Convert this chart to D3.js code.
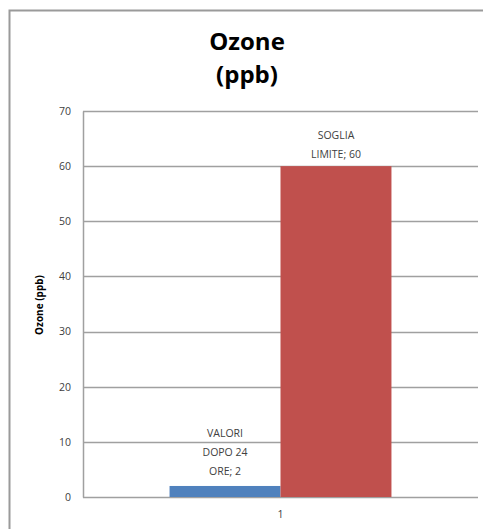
<!DOCTYPE html>
<html>
<head>
<meta charset="utf-8">
<script src="https://cdn.jsdelivr.net/npm/d3@7"></script>
<style>
  body { margin: 0; background: #fff; }
  svg { display: block; font-family: "Open Sans", "Noto Sans", sans-serif; }
</style>
</head>
<body>
<div class="chart"></div>
<script>
// data
var categories = ["1"];
var seriesNames = ["VALORI DOPO 24 ORE", "SOGLIA LIMITE"];
var seriesValues = [2, 60];
var seriesColors = ["#4f81bd", "#c0504d"];
var yTicks = [0, 10, 20, 30, 40, 50, 60, 70];
var labelLines = [["VALORI", "DOPO 24", "ORE; 2"], ["SOGLIA", "LIMITE; 60"]];

var W = 483, H = 529;
var margin = {top: 111, right: 5, bottom: 32, left: 83};
var width = W - margin.left - margin.right;
var height = H - margin.top - margin.bottom;

var svg = d3.select(".chart").append("svg")
  .attr("width", W)
  .attr("height", H);

// outer chart frame (cropped on right and bottom)
svg.append("path")
  .attr("d", "M9.5," + H + " V10.5 H" + W)
  .attr("fill", "none")
  .attr("stroke", "#9a9a9a")
  .attr("stroke-width", 2);

// title
var title = svg.append("text")
  .attr("x", 247)
  .attr("text-anchor", "middle")
  .attr("font-weight", "bold")
  .attr("font-size", 24)
  .attr("fill", "#000");
title.append("tspan").attr("x", 247).attr("y", 50).text("Ozone");
title.append("tspan").attr("x", 247).attr("y", 83).text("(ppb)");

var g = svg.append("g")
  .attr("transform", "translate(" + margin.left + "," + margin.top + ")");

var y = d3.scaleLinear().domain([0, 70]).range([height, 0]);
var x0 = d3.scaleBand().domain(categories).range([0, width]).paddingOuter(0.39);
var x1 = d3.scaleBand().domain(seriesNames).range([0, x0.bandwidth()]);

// gridlines
g.append("g")
  .selectAll("line")
  .data(yTicks)
  .join("line")
  .attr("x1", 0)
  .attr("x2", width)
  .attr("y1", function (d) { return Math.round(y(d)) + 0.5; })
  .attr("y2", function (d) { return Math.round(y(d)) + 0.5; })
  .attr("stroke", "#a0a0a0")
  .attr("stroke-width", 1.5);

// bars
var cat = g.append("g")
  .attr("transform", "translate(" + x0(categories[0]) + ",0)");

cat.selectAll("rect")
  .data(seriesValues)
  .join("rect")
  .attr("x", function (d, i) { return x1(seriesNames[i]); })
  .attr("width", x1.bandwidth())
  .attr("y", function (d) { return y(d); })
  .attr("height", function (d) { return height - y(d); })
  .attr("fill", function (d, i) { return seriesColors[i]; });

// data labels
cat.selectAll("text.lbl")
  .data(seriesValues)
  .join("text")
  .attr("class", "lbl")
  .attr("text-anchor", "middle")
  .attr("font-size", 10.5)
  .attr("fill", "#404040")
  .each(function (d, i) {
    var t = d3.select(this);
    var cx = x1(seriesNames[i]) + x1.bandwidth() / 2;
    var lines = labelLines[i];
    var top = y(d) - (i === 0 ? 11 : 8) - (lines.length - 1) * 19;
    lines.forEach(function (s, k) {
      t.append("tspan").attr("x", cx).attr("y", top + k * 19).text(s);
    });
  });

// y axis
var yAxis = g.append("g")
  .call(d3.axisLeft(y).tickValues(yTicks).tickSize(0).tickPadding(12));
yAxis.select(".domain")
  .attr("stroke", "#a0a0a0")
  .attr("stroke-width", 1.5);
yAxis.selectAll("text")
  .attr("font-size", 10.5)
  .attr("font-family", "Open Sans, Noto Sans, sans-serif")
  .attr("fill", "#404040");

// x axis labels
var xAxis = g.append("g")
  .attr("transform", "translate(0," + height + ")")
  .call(d3.axisBottom(x0).tickSize(0).tickPadding(14));
xAxis.select(".domain").remove();
xAxis.selectAll("text")
  .attr("font-size", 10.5)
  .attr("font-family", "Open Sans, Noto Sans, sans-serif")
  .attr("fill", "#404040");

// y axis title
svg.append("text")
  .attr("transform", "translate(43,305) rotate(-90)")
  .attr("text-anchor", "middle")
  .attr("font-weight", "bold")
  .attr("font-size", 10)
  .attr("fill", "#000")
  .text("Ozone (ppb)");
</script>
</body>
</html>
